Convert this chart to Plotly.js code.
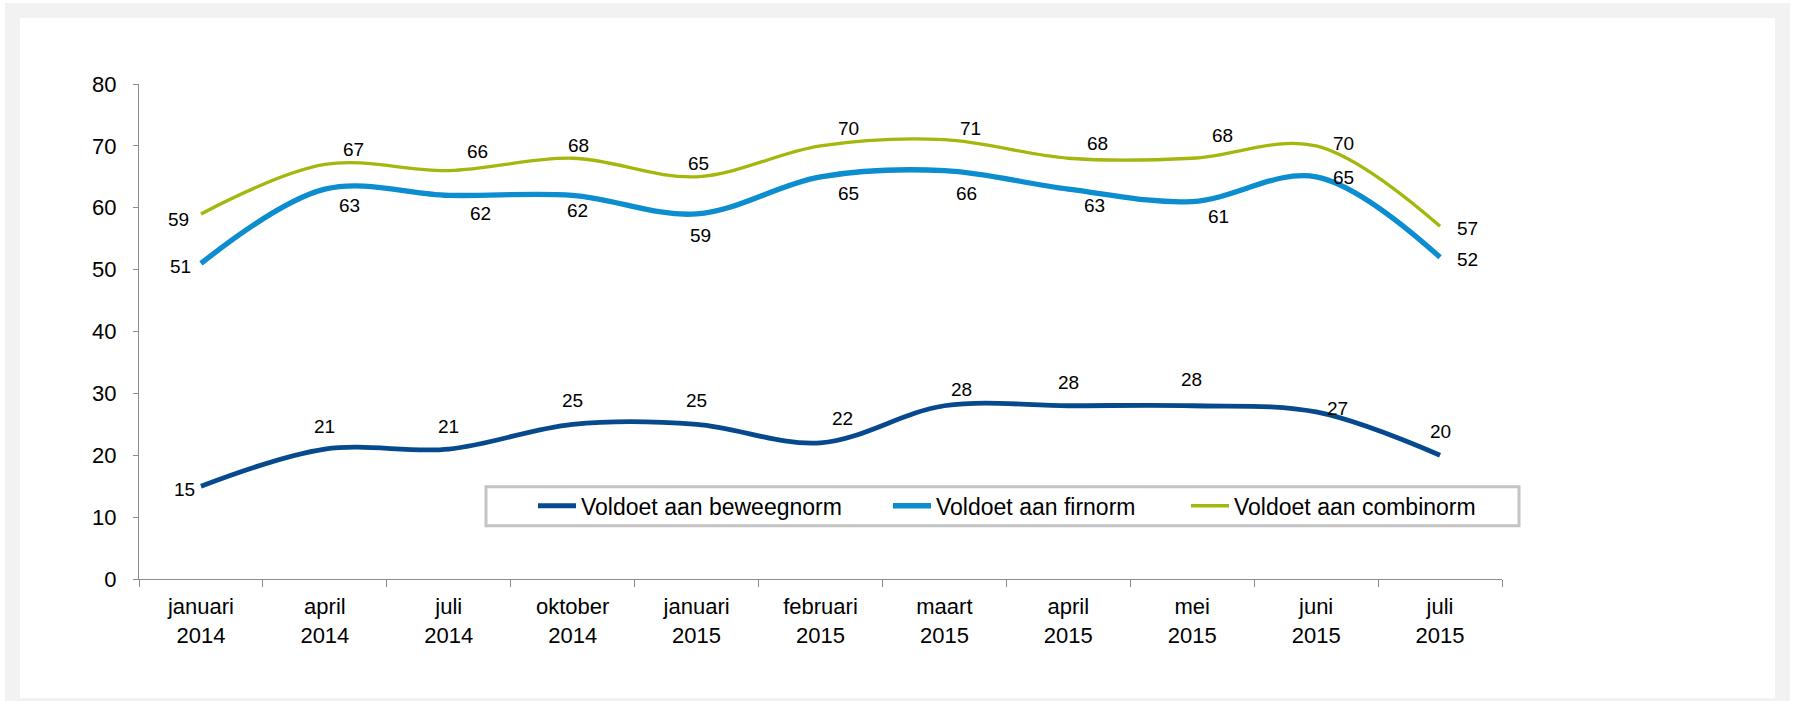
<!DOCTYPE html>
<html>
<head>
<meta charset="utf-8">
<script src="https://cdn.plot.ly/plotly-3.0.1.min.js"></script>
<style>
  html, body { margin: 0; padding: 0; background: #ffffff; width: 1795px; height: 701px; overflow: hidden; }
  #frame { position: absolute; left: 5px; top: 3px; width: 1785px; height: 698px; background: #f2f2f2; }
  #chart { position: absolute; left: 20px; top: 18px; width: 1755px; height: 680px; background: #ffffff; }
</style>
</head>
<body>
<div id="frame"></div>
<div id="chart"></div>
<script>
// ---- data ----
const categories = [
  'januari<br>2014', 'april<br>2014', 'juli<br>2014', 'oktober<br>2014',
  'januari<br>2015', 'februari<br>2015', 'maart<br>2015', 'april<br>2015',
  'mei<br>2015', 'juni<br>2015', 'juli<br>2015'
];
const seriesNames = ['Voldoet aan beweegnorm', 'Voldoet aan firnorm', 'Voldoet aan combinorm'];
const beweegnorm = [15, 21, 21, 25, 25, 22, 28, 28, 28, 27, 20];
const firnorm    = [51, 63, 62, 62, 59, 65, 66, 63, 61, 65, 52];
const combinorm  = [59, 67, 66, 68, 65, 70, 71, 68, 68, 70, 57];
const yTicks = [0, 10, 20, 30, 40, 50, 60, 70, 80];

// ---- styling (label offsets in px, colours, widths) ----
const colors = ['#064a8d', '#0b8dd0', '#a3b70d'];
const widths = [4.8, 5.3, 3.3];
const offsBeweeg = [[-16,-3],[0,23],[0,23],[0,24],[0,24],[22,24],[17,16],[0,23],[-1,26],[21,3],[0,24]];
const offsFir    = [[-20,-3],[25,-16],[32,-18],[5,-15],[4,-22],[28,-17],[22,-23],[26,-16],[26,-15],[27,-1],[27,-2]];
const offsCombi  = [[-22,-6],[29,15],[29,19],[6,13],[2,13],[28,17],[26,11],[29,15],[30,23],[27,2],[27,-2]];

const FONT = '"Liberation Sans", Arial, sans-serif';
const allSeries = [beweegnorm, firnorm, combinorm];
const allOffs = [offsBeweeg, offsFir, offsCombi];
const legendIds = ['legend', 'legend2', 'legend3'];

const traces = allSeries.map((vals, i) => ({
  type: 'scatter',
  mode: 'lines',
  x: categories,
  y: vals,
  name: seriesNames[i],
  legend: legendIds[i],
  line: { color: colors[i], width: widths[i], shape: 'spline', smoothing: 1 },
  hoverinfo: 'x+y'
}));

const annotations = [];
allSeries.forEach((vals, i) => {
  vals.forEach((v, j) => {
    annotations.push({
      x: categories[j], y: v, xref: 'x', yref: 'y',
      text: String(v), showarrow: false,
      xanchor: 'center', yanchor: 'middle',
      xshift: allOffs[i][j][0], yshift: allOffs[i][j][1],
      font: { family: FONT, size: 19, color: '#000000' }
    });
  });
});

// plot area in div px: x 119..1482, y 65.5..561.3
const L = 119, PW = 1363, T = 65.5, PH = 495.8;
const px2x = (px) => (px - L) / PW;
const px2y = (py) => (T + PH - py) / PH;

const legendCommon = {
  orientation: 'h', bgcolor: 'rgba(0,0,0,0)', borderwidth: 0,
  font: { family: FONT, size: 23, color: '#000000' },
  xanchor: 'left', yanchor: 'middle', itemwidth: 38, y: px2y(488)
};

const layout = {
  width: 1755, height: 680,
  margin: { l: L, r: 1755 - L - PW, t: T, b: 680 - T - PH, pad: 0 },
  paper_bgcolor: '#ffffff', plot_bgcolor: '#ffffff',
  font: { family: FONT, size: 22, color: '#000000' },
  showlegend: true,
  xaxis: {
    type: 'category', range: [-0.5, 10.5],
    showline: true, linecolor: '#8c8c8c', linewidth: 1,
    ticks: 'outside', tickson: 'boundaries', ticklen: 7, tickcolor: '#8c8c8c', tickwidth: 1,
    showgrid: false, zeroline: false,
    tickfont: { family: FONT, size: 22, color: '#000000' },
    ticklabelstandoff: 8, fixedrange: true
  },
  yaxis: {
    range: [0, 80], tickvals: yTicks, ticktext: yTicks.map(String),
    showline: true, linecolor: '#8c8c8c', linewidth: 1,
    ticks: 'outside', ticklen: 5, tickcolor: '#8c8c8c', tickwidth: 1,
    showgrid: false, zeroline: false,
    tickfont: { family: FONT, size: 22, color: '#000000' },
    ticklabelstandoff: 12, fixedrange: true
  },
  legend:  Object.assign({}, legendCommon, { x: px2x(513) }),
  legend2: Object.assign({}, legendCommon, { x: px2x(868) }),
  legend3: Object.assign({}, legendCommon, { x: px2x(1166) }),
  shapes: [{
    type: 'rect', xref: 'paper', yref: 'paper', layer: 'below',
    x0: px2x(466), x1: px2x(1499), y0: px2y(508), y1: px2y(469),
    line: { color: '#c4c4c4', width: 3 }, fillcolor: '#ffffff'
  }],
  annotations: annotations
};

Plotly.newPlot('chart', traces, layout, { displayModeBar: false, staticPlot: true });
</script>
</body>
</html>
